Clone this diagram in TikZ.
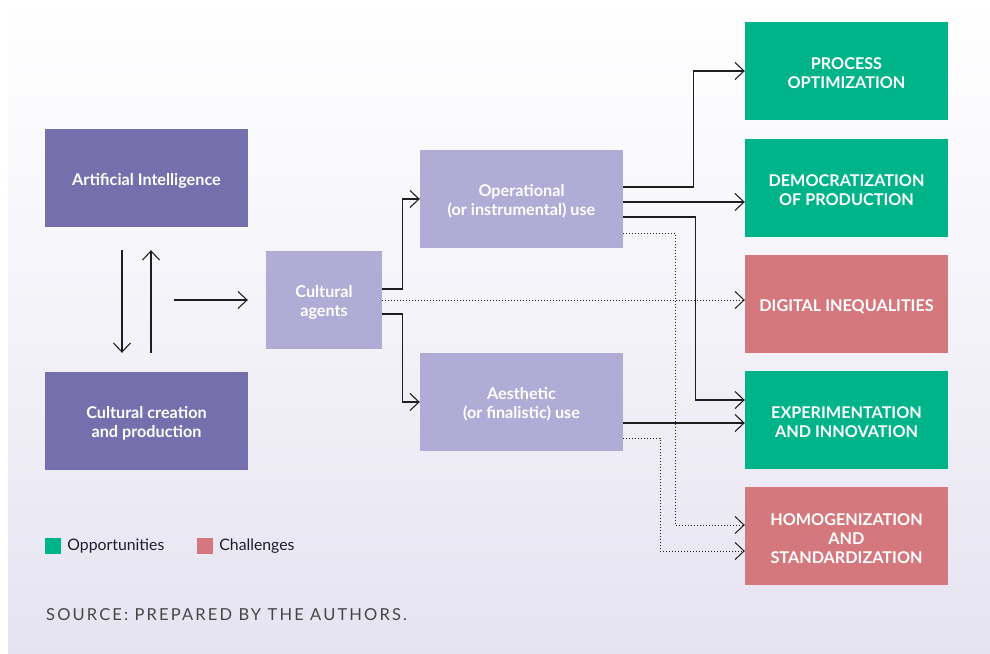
\documentclass[tikz,border=0pt]{standalone}
\usepackage{fontspec}
\setmainfont{Lato}
\usetikzlibrary{arrows.meta,positioning}

\definecolor{aipurple}{HTML}{766FAE}
\definecolor{usepurple}{HTML}{B0ACD5}
\definecolor{oppgreen}{HTML}{00B48A}
\definecolor{chalred}{HTML}{D4787E}
\definecolor{panelbot}{HTML}{E5E3F1}
\definecolor{inkline}{HTML}{1E1E1E}
\definecolor{inktext}{HTML}{1D1D2B}
\definecolor{sourcegray}{HTML}{454545}

\newcommand{\lift}{\rule{0pt}{17pt}}

\tikzset{
    box/.style={rectangle, minimum width=203pt, minimum height=98pt, inner sep=0pt,
        align=center, text=white, font=\bfseries\fontsize{16.2}{19}\selectfont},
    darkbox/.style={box, fill=aipurple},
    lightbox/.style={box, fill=usepurple},
    oppbox/.style={box, fill=oppgreen},
    chalbox/.style={box, fill=chalred},
    link/.style={draw=inkline, line width=1.1pt, -{Straight Barb[length=9pt,width=17pt]}},
    weaklink/.style={link, line width=1pt, dash pattern=on 1pt off 2pt},
    keysq/.style={rectangle, minimum size=16pt, inner sep=0pt},
    keytext/.style={inner sep=0pt, text=inktext, font=\fontsize{15.8}{18}\selectfont}
}

\begin{document}
\begin{tikzpicture}[x=1pt,y=-1pt]
    \useasboundingbox (0,0) rectangle (990,653);
    \shade[top color=white, bottom color=panelbot, middle color=panelbot!45] (8,0) rectangle (990,653);

    \node[darkbox] (ai) at (146.5,178) {\lift Artificial Intelligence};
    \node[darkbox] (creation) at (146.5,421) {\lift Cultural creation\\and production};
    \node[lightbox, minimum width=116pt] (agents) at (324,300) {\lift Cultural\\agents};
    \node[lightbox] (oper) at (521.5,199) {\lift Operational\\(or instrumental) use};
    \node[lightbox] (aest) at (521.5,402) {\lift Aesthetic\\(or finalistic) use};
    \node[oppbox] (proc) at (846.5,71) {\lift PROCESS\\OPTIMIZATION};
    \node[oppbox] (demo) at (846.5,188) {\lift DEMOCRATIZATION\\OF PRODUCTION};
    \node[chalbox] (digit) at (846.5,304) {\lift DIGITAL INEQUALITIES};
    \node[oppbox] (exper) at (846.5,420) {\lift EXPERIMENTATION\\AND INNOVATION};
    \node[chalbox] (homog) at (846.5,536) {\lift HOMOGENIZATION\\AND\\STANDARDIZATION};

    \draw[link] ([xshift=-24.5pt,yshift=-23pt]ai.south) -- ([xshift=-24.5pt,yshift=19pt]creation.north);
    \draw[link] ([xshift=4.5pt,yshift=19pt]creation.north) -- ([xshift=4.5pt,yshift=-23pt]ai.south);
    \draw[link] ([xshift=-92pt]agents.west) -- ([xshift=-18pt]agents.west);

    \draw[link] ([yshift=11pt]agents.east) -- ++(20,0) |- (oper.west);
    \draw[link] ([yshift=-14pt]agents.east) -- ++(20,0) |- (aest.west);
    \draw[weaklink] (agents.east) -- (agents.east -| digit.west);

    \draw[link] ([yshift=12pt]oper.east) -- ++(70,0) |- (proc.west);
    \draw[link] ([yshift=-3pt]oper.east) -- ([yshift=-3pt]oper.east -| demo.west);
    \draw[link] ([yshift=-18pt]oper.east) -- ++(72,0) |- ([yshift=20pt]exper.west);
    \draw[weaklink] ([yshift=-34pt]oper.east) -- ++(52,0) |- ([yshift=11pt]homog.west);
    \draw[link] ([yshift=-21pt]aest.east) -- ([yshift=-21pt]aest.east -| exper.west);
    \draw[weaklink] ([yshift=-36pt]aest.east) -- ++(37,0) |- ([yshift=-15pt]homog.west);

    \node[keysq, fill=oppgreen] (oppkey) at (53,546) {};
    \node[keytext, right=6pt of oppkey] (opplabel) {Opportunities};
    \node[keysq, fill=chalred] (chalkey) at (205,546) {};
    \node[keytext, right=6pt of chalkey] (challabel) {Challenges};

    \node[anchor=west, inner sep=0pt, text=sourcegray,
        font=\addfontfeatures{LetterSpace=13}\fontsize{16.5}{19}\selectfont] (source) at (46,615)
        {SOURCE: PREPARED BY THE AUTHORS.};
\end{tikzpicture}
\end{document}
